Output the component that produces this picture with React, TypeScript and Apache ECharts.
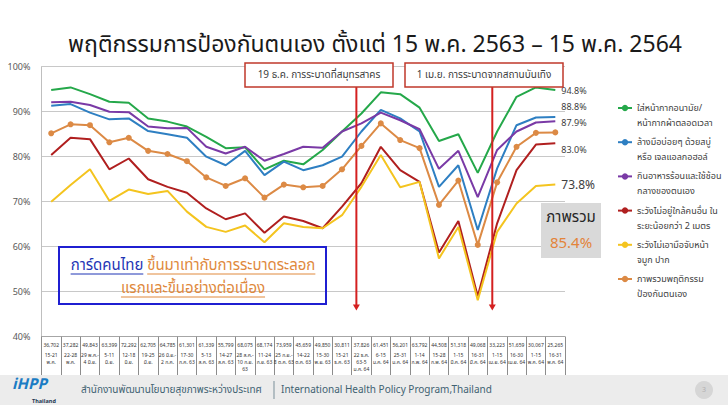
import React, { useEffect, useRef } from "react";
import * as echarts from "echarts";

const TITLE = "พฤติกรรมการป้องกันตนเอง ตั้งแต่ 15 พ.ค. 2563 – 15 พ.ค. 2564";

const categories = [
  "15-21\nพ.ค.", "22-28\nพ.ค.", "29 พ.ค.-\n4 มิ.ย.", "5-11\nมิ.ย.", "12-18\nมิ.ย.",
  "19-25\nมิ.ย.", "26 มิ.ย.-\n2 ก.ค.", "17-30\nก.ค. 63", "5-13\nส.ค. 63", "14-27\nส.ค. 63",
  "28 ส.ค.-\n10 ก.ย.\n63", "11-24\nก.ย. 63", "25 ก.ย.-\n8 ต.ค. 63", "14-22\nต.ค. 63", "15-30\nพ.ย. 63",
  "15-21\nธ.ค. 63", "22 ธ.ค.\n63-5\nม.ค. 64", "6-15\nม.ค. 64", "25-31\nม.ค. 64", "1-14\nก.พ. 64",
  "15-28\nก.พ. 64", "1-15\nมี.ค. 64", "16-31\nมี.ค. 64", "1-15\nเม.ย. 64", "16-30\nเม.ย. 64",
  "1-15\nพ.ค. 64", "16-31\nพ.ค. 64",
];

const sampleSizes = [
  "36,702", "37,282", "49,843", "63,399", "72,292", "62,705", "64,785", "61,301", "61,339",
  "55,799", "68,075", "68,174", "73,959", "45,659", "49,850", "30,811", "37,826", "61,451",
  "56,201", "63,792", "44,508", "51,318", "49,068", "33,223", "51,659", "30,067", "25,265",
];

const maskAlways = [94.8, 95.4, 93.9, 92.2, 92.0, 88.5, 87.8, 86.7, 84.4, 81.9, 82.1, 77.2, 79.1, 78.3, 81.5, 85.6, 89.6, 94.3, 93.9, 90.9, 83.5, 85.0, 76.4, 85.6, 93.3, 95.4, 94.8];
const handWash = [91.3, 91.7, 89.8, 88.3, 88.5, 85.7, 85.0, 84.2, 80.0, 78.1, 81.3, 75.9, 78.9, 77.0, 78.1, 80.0, 85.6, 90.4, 88.5, 85.6, 73.3, 78.1, 63.7, 77.4, 87.0, 88.7, 88.8];
const hotFood = [92.1, 92.2, 91.5, 90.0, 89.9, 86.7, 86.3, 86.4, 82.2, 80.7, 82.2, 79.1, 80.6, 82.2, 82.0, 85.6, 87.4, 89.8, 88.1, 86.1, 77.3, 81.3, 71.0, 81.5, 85.6, 87.6, 87.9];
const distancing = [80.4, 84.2, 83.9, 77.2, 79.6, 75.0, 73.3, 72.0, 68.5, 66.1, 67.4, 63.1, 66.7, 65.7, 64.1, 68.9, 74.1, 82.2, 77.0, 74.4, 58.7, 65.7, 49.0, 65.2, 77.0, 82.7, 83.0];
const noTouchFace = [70.0, 73.7, 77.2, 70.2, 72.7, 71.7, 72.4, 67.8, 64.4, 63.3, 64.7, 61.0, 65.2, 64.4, 64.1, 67.0, 73.3, 80.4, 73.2, 74.4, 57.4, 64.4, 48.1, 63.3, 69.6, 73.5, 73.8];
const overall = [85.2, 87.2, 87.0, 83.2, 84.2, 81.3, 80.6, 79.0, 75.4, 73.5, 75.2, 70.9, 73.8, 73.2, 73.5, 77.2, 82.4, 87.4, 83.7, 81.9, 69.3, 74.7, 60.4, 74.3, 82.2, 85.3, 85.4];

const seriesNames = [
  "ใส่หน้ากากอนามัย/\nหน้ากากผ้าตลอดเวลา",
  "ล้างมือบ่อยๆ ด้วยสบู่\nหรือ เจลแอลกอฮอล์",
  "กินอาหารร้อนและใช้ช้อน\nกลางของตนเอง",
  "ระวังไม่อยู่ใกล้คนอื่น ใน\nระยะน้อยกว่า 2 เมตร",
  "ระวังไม่เอามือจับหน้า\nจมูก ปาก",
  "ภาพรวมพฤติกรรม\nป้องกันตนเอง",
];

const events = [
  { label: "19 ธ.ค. การระบาดที่สมุทรสาคร", at: 15.74 },
  { label: "1 เม.ย. การระบาดจากสถานบันเทิง", at: 22.75 },
];

const Y_TICKS = { min: 40, max: 100, interval: 10 };

const FONT = "'Noto Sans Thai', 'Noto Sans', 'DejaVu Sans', sans-serif";

function measure(text: string, size: number) {
  const ctx = document.createElement("canvas").getContext("2d")!;
  ctx.font = `${size}px ${FONT}`;
  return ctx.measureText(text).width;
}

export default function App() {
  const ref = useRef<HTMLDivElement>(null);
  useEffect(() => {
    const chart = echarts.init(ref.current!, null, { renderer: "svg" });
    const lines = [
      { data: maskAlways, color: "#25a84a", label: { offset: [0, 1], size: 9 } },
      { data: handWash, color: "#2e7fc2", label: { offset: [0, -10], size: 9 } },
      { data: hotFood, color: "#7a3aa6", label: { offset: [0, 2], size: 9 } },
      { data: distancing, color: "#b01f1f", label: { offset: [0, 7], size: 9 } },
      { data: noTouchFace, color: "#f4c41f", label: { offset: [0, 0], size: 12 } },
      { data: overall, color: "#dc8a45", label: null },
    ];
    const legendTop0 = 108;
    const legendStep = 34.2;
    chart.setOption({
      animation: false,
      backgroundColor: "#ffffff",
      textStyle: { fontFamily: FONT },
      grid: { left: 41.5, right: 163, top: 66.7, bottom: 68.3, containLabel: false },
      xAxis: {
        type: "category",
        data: categories,
        boundaryGap: true,
        axisLine: { lineStyle: { color: "#a6a6a6" } },
        axisTick: { show: true, length: 39, lineStyle: { color: "#8c8c8c" } },
        axisLabel: {
          interval: 0,
          margin: 3,
          color: "#333333",
          formatter: (v: string, i: number) => `{n|${sampleSizes[i]}}\n{d|${v}}`,
          rich: {
            n: { fontSize: 5, lineHeight: 12, color: "#333333" },
            d: { fontSize: 5, lineHeight: 7, color: "#333333" },
          },
        },
      },
      yAxis: {
        type: "value",
        ...Y_TICKS,
        axisLine: { show: true, lineStyle: { color: "#bfbfbf" } },
        axisTick: { show: false },
        axisLabel: { formatter: "{value}%", fontSize: 9, color: "#595959", margin: 11 },
        splitLine: { lineStyle: { color: "#c8c8c8" } },
      },
      legend: seriesNames.map((name, i) => ({
        data: [name],
        orient: "vertical",
        left: 617,
        top: legendTop0 + legendStep * i - 22.5,
        padding: 0,
        itemWidth: 14,
        itemHeight: 8,
        selectedMode: false,
        formatter: (n: string) => "\n" + n,
        textStyle: { fontSize: 9, lineHeight: 15, color: "#404040", fontFamily: FONT },
      })),
      series: lines.map((l, i) => ({
        type: "line",
        name: seriesNames[i],
        data: l.data,
        symbol: i === 5 ? "circle" : "none",
        symbolSize: 6,
        lineStyle: { width: 2, color: l.color },
        itemStyle: { color: l.color },
        z: 2 + i,
        endLabel: l.label
          ? {
              show: true,
              distance: 6,
              offset: l.label.offset,
              fontSize: l.label.size,
              color: "#404040",
              formatter: (p: any) => `${Number(p.value).toFixed(1)}%`,
            }
          : { show: false },
      })),
    });

    const px = (xi: number, yv: number) => chart.convertToPixel({ gridIndex: 0 }, [xi, yv]) as number[];
    const xAt = (f: number) => {
      const a = px(Math.floor(f), 50)[0];
      const b = px(Math.floor(f) + 1, 50)[0];
      return a + (b - a) * (f - Math.floor(f));
    };
    const boxes = [
      { x: 245, w: 148 },
      { x: 405, w: 158 },
    ];
    const boxY = 63;
    const boxH = 24;
    const arrowEnd = px(0, 45.8)[1];
    const g: any[] = [];

    // title
    g.push({
      type: "text",
      x: 375,
      y: 45,
      style: { text: TITLE, fontSize: 23, fill: "#1a1a1a", align: "center", verticalAlign: "middle", fontFamily: FONT },
      z: 30,
    });

    events.forEach((e, k) => {
      const x = xAt(e.at);
      g.push({
        type: "line",
        shape: { x1: x, y1: boxY + boxH, x2: x, y2: arrowEnd - 5 },
        style: { stroke: "#d42020", lineWidth: 2 },
        z: 20,
      });
      g.push({
        type: "polygon",
        shape: { points: [[x - 3.5, arrowEnd - 6], [x + 3.5, arrowEnd - 6], [x, arrowEnd]] },
        style: { fill: "#d42020" },
        z: 20,
      });
      g.push({
        type: "rect",
        shape: { x: boxes[k].x, y: boxY, width: boxes[k].w, height: boxH },
        style: { fill: "#ffffff", stroke: "#c0392b", lineWidth: 1.5 },
        z: 21,
      });
      g.push({
        type: "text",
        x: boxes[k].x + boxes[k].w / 2,
        y: boxY + boxH / 2,
        style: { text: e.label, fontSize: 10, fill: "#404040", align: "center", verticalAlign: "middle", fontFamily: FONT },
        z: 22,
      });
    });

    // overall box
    const last = overall[overall.length - 1];
    g.push({
      type: "rect",
      shape: { x: 541, y: 203, width: 60, height: 55 },
      style: { fill: "#d9d9d9" },
      z: 15,
    });
    g.push({
      type: "text",
      x: 571,
      y: 217,
      style: { text: "ภาพรวม", fontSize: 15, fill: "#262626", align: "center", verticalAlign: "middle", fontFamily: FONT },
      z: 16,
    });
    g.push({
      type: "text",
      x: 571,
      y: 243,
      style: { text: `${last.toFixed(1)}%`, fontSize: 15, fill: "#e3843b", align: "center", verticalAlign: "middle", fontFamily: FONT },
      z: 16,
    });

    // blue note box
    const fs = 15;
    const part1 = "การ์ดคนไทย";
    const part2 = " ขึ้นมาเท่ากับการระบาดระลอก";
    const line2 = "แรกและขึ้นอย่างต่อเนื่อง";
    const w1 = measure(part1, fs);
    const w2 = measure(part2, fs);
    const wl2 = measure(line2, fs);
    const cx = 193;
    const l1x = cx - (w1 + w2) / 2;
    const l1y = 265;
    const l2y = 288;
    g.push({
      type: "rect",
      shape: { x: 59, y: 247, width: 267, height: 57 },
      style: { fill: "none", stroke: "#1f1fd1", lineWidth: 2 },
      z: 15,
    });
    g.push({
      type: "text", x: l1x, y: l1y,
      style: { text: part1, fontSize: fs, fill: "#1f35b5", verticalAlign: "middle", fontFamily: FONT },
      z: 16,
    });
    g.push({
      type: "text", x: l1x + w1, y: l1y,
      style: { text: part2, fontSize: fs, fill: "#e0893d", verticalAlign: "middle", fontFamily: FONT },
      z: 16,
    });
    g.push({
      type: "text", x: cx - wl2 / 2, y: l2y,
      style: { text: line2, fontSize: fs, fill: "#e0893d", verticalAlign: "middle", fontFamily: FONT },
      z: 16,
    });
    const ul = (x1: number, x2: number, y: number, c: string) =>
      g.push({ type: "line", shape: { x1, y1: y, x2, y2: y }, style: { stroke: c, lineWidth: 1 }, z: 16 });
    ul(l1x, l1x + w1, l1y + 9, "#1f35b5");
    ul(l1x + w1 + measure(" ", fs), l1x + w1 + w2, l1y + 9, "#e0893d");
    ul(cx - wl2 / 2, cx + wl2 / 2, l2y + 9, "#e0893d");

    // footer
    g.push({ type: "rect", shape: { x: 0, y: 375, width: 728, height: 30 }, style: { fill: "#ececec" }, z: 1 });
    g.push({
      type: "text", x: 12, y: 384,
      style: { text: "iHPP", fontSize: 15, lineHeight: 15, fontWeight: "bold", fontStyle: "italic", fill: "#1b7cc4", verticalAlign: "middle", fontFamily: FONT },
      z: 2,
    });
    g.push({
      type: "text", x: 32, y: 400.5,
      style: { text: "Thailand", fontSize: 5.5, lineHeight: 6, fontWeight: "bold", fill: "#1a3550", verticalAlign: "middle", fontFamily: FONT },
      z: 3,
    });
    g.push({
      type: "text", x: 81, y: 390,
      style: { text: "สำนักงานพัฒนานโยบายสุขภาพระหว่างประเทศ", fontSize: 10, fill: "#3f6272", verticalAlign: "middle", fontFamily: FONT },
      z: 2,
    });
    g.push({ type: "line", shape: { x1: 274, y1: 381, x2: 274, y2: 399 }, style: { stroke: "#7a8f99", lineWidth: 1 }, z: 2 });
    g.push({
      type: "text", x: 281, y: 390,
      style: { text: "International Health Policy Program,Thailand", fontSize: 10, fill: "#3f6272", verticalAlign: "middle", fontFamily: FONT },
      z: 2,
    });
    g.push({ type: "circle", shape: { cx: 704, cy: 390, r: 9 }, style: { fill: "#d6d6d6" }, z: 2 });
    g.push({
      type: "text", x: 704, y: 390,
      style: { text: "3", fontSize: 7, fill: "#b0b0b0", align: "center", verticalAlign: "middle", fontFamily: FONT },
      z: 3,
    });

    chart.setOption({ graphic: g });
    return () => chart.dispose();
  }, []);
  return <div ref={ref} style={{ position: "fixed", left: 0, top: 0, width: 728, height: 405 }} />;
}
